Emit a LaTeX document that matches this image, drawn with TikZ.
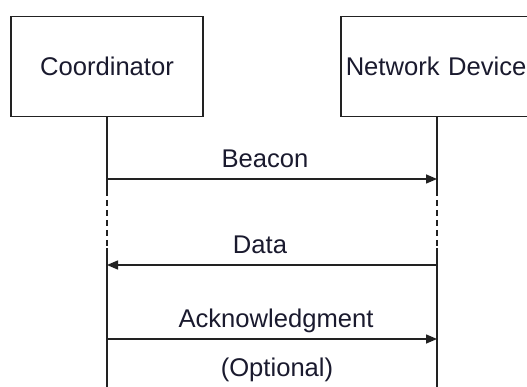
\documentclass[tikz,border=0pt]{standalone}
\usepackage{fontspec}
\setmainfont{Liberation Sans}
\usetikzlibrary{arrows.meta}
\definecolor{ink}{HTML}{222222}
\definecolor{txt}{HTML}{1A1A2E}
\tikzset{
  actor/.style={draw=ink, line width=1.5pt, fill=white, rectangle, minimum height=100pt, inner sep=0pt, text=txt, font=\fontsize{25.6}{30}\selectfont},
  life/.style={draw=ink, line width=1.5pt},
  lifedash/.style={draw=ink, line width=1.5pt, dash pattern=on 6pt off 4pt},
  msg/.style={draw=ink, line width=1.5pt, -{Triangle[length=11pt,width=9pt]}},
  lbl/.style={text=txt, font=\fontsize{25.6}{30}\selectfont, inner sep=0pt, anchor=base}
}
\begin{document}
\begin{tikzpicture}[x=1pt,y=-1pt]
\useasboundingbox (0,0) rectangle (527,387);
\clip (0,0) rectangle (527,387);
\fill[white] (0,0) rectangle (527,387);
\node[actor, minimum width=192pt] (coord) at (107,66.5) {Coordinator};
\node[actor, text width=190pt, align=left, inner xsep=5pt, anchor=west] (dev) at (340,66.5) {Network Device};
% lifeline coordinates
\coordinate (c1) at (107,190);
\coordinate (c2) at (107,248);
\coordinate (c3) at (107,390);
\coordinate (d1) at (437,190);
\coordinate (d2) at (437,248);
\coordinate (d3) at (437,390);
\coordinate (cb) at (107,179);
\coordinate (db) at (437,179);
\coordinate (cd) at (107,265);
\coordinate (dd) at (437,265);
\coordinate (ca) at (107,339);
\coordinate (da) at (437,339);
\draw[life] (coord.south) -- (c1);
\draw[lifedash] (c1) -- (c2);
\draw[life] (c2) -- (c3);
\draw[life] (dev.south -| d1) -- (d1);
\draw[lifedash] (d1) -- (d2);
\draw[life] (d2) -- (d3);
\draw[msg] (cb) -- (db);
\draw[msg] (dd) -- (cd);
\draw[msg] (ca) -- (da);
\node[lbl] (beacon) at (265,168) {Beacon};
\node[lbl] (data) at (260,254) {Data};
\node[lbl] (ack) at (276,327) {Acknowledgment};
\node[lbl] (opt) at (277,376) {(Optional)};
\end{tikzpicture}
\end{document}
